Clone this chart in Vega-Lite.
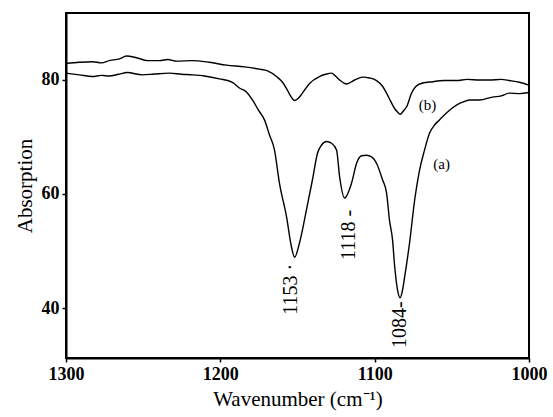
{
  "$schema": "https://vega.github.io/schema/vega-lite/v6.json",
  "width": 463,
  "height": 345,
  "autosize": {"type": "none"},
  "padding": {"left": 66, "top": 13, "right": 24, "bottom": 59},
  "background": "white",
  "config": {
    "view": {"stroke": "black", "strokeWidth": 2},
    "font": "Liberation Serif, Times New Roman, serif"
  },
  "datasets": {
    "spectra": [
      {"wn": 1300, "v": 82.9, "s": "b"}, {"wn": 1291.3, "v": 83.1, "s": "b"}, {"wn": 1282.9, "v": 83.2, "s": "b"},
      {"wn": 1277, "v": 83.0, "s": "b"}, {"wn": 1271.9, "v": 83.4, "s": "b"}, {"wn": 1265.3, "v": 83.7, "s": "b"},
      {"wn": 1260.8, "v": 84.2, "s": "b"}, {"wn": 1254.3, "v": 83.9, "s": "b"}, {"wn": 1247.2, "v": 83.4, "s": "b"},
      {"wn": 1239.4, "v": 83.4, "s": "b"}, {"wn": 1234, "v": 83.6, "s": "b"}, {"wn": 1228.4, "v": 83.3, "s": "b"},
      {"wn": 1218.1, "v": 83.4, "s": "b"}, {"wn": 1207.1, "v": 83.1, "s": "b"}, {"wn": 1196.0, "v": 82.6, "s": "b"},
      {"wn": 1184.4, "v": 82.3, "s": "b"}, {"wn": 1174.6, "v": 81.9, "s": "b"}, {"wn": 1169.4, "v": 81.6, "s": "b"},
      {"wn": 1163.6, "v": 80.6, "s": "b"}, {"wn": 1159.7, "v": 79.6, "s": "b"}, {"wn": 1157.1, "v": 78.5, "s": "b"},
      {"wn": 1154.5, "v": 77.2, "s": "b"}, {"wn": 1151.9, "v": 76.4, "s": "b"}, {"wn": 1149.4, "v": 76.8, "s": "b"},
      {"wn": 1146.8, "v": 77.7, "s": "b"}, {"wn": 1142.2, "v": 79.4, "s": "b"}, {"wn": 1135.8, "v": 80.6, "s": "b"},
      {"wn": 1131.8, "v": 81.0, "s": "b"}, {"wn": 1127.9, "v": 81.2, "s": "b"}, {"wn": 1125.4, "v": 80.7, "s": "b"},
      {"wn": 1122.7, "v": 80.0, "s": "b"}, {"wn": 1118.2, "v": 79.3, "s": "b"}, {"wn": 1113.0, "v": 80.0, "s": "b"},
      {"wn": 1107.8, "v": 80.5, "s": "b"}, {"wn": 1103.3, "v": 80.35, "s": "b"}, {"wn": 1098.8, "v": 79.9, "s": "b"},
      {"wn": 1094.9, "v": 78.9, "s": "b"}, {"wn": 1092.3, "v": 77.7, "s": "b"}, {"wn": 1089.7, "v": 76.3, "s": "b"},
      {"wn": 1087.1, "v": 75.0, "s": "b"}, {"wn": 1085.2, "v": 74.4, "s": "b"}, {"wn": 1083.5, "v": 74.0, "s": "b"},
      {"wn": 1081.3, "v": 74.6, "s": "b"}, {"wn": 1079.3, "v": 75.3, "s": "b"}, {"wn": 1076.1, "v": 77.7, "s": "b"},
      {"wn": 1073.5, "v": 78.8, "s": "b"}, {"wn": 1070.9, "v": 79.3, "s": "b"}, {"wn": 1062.5, "v": 79.7, "s": "b"},
      {"wn": 1055, "v": 79.9, "s": "b"}, {"wn": 1047.0, "v": 79.9, "s": "b"}, {"wn": 1040, "v": 80.1, "s": "b"},
      {"wn": 1032.1, "v": 80.0, "s": "b"}, {"wn": 1025.6, "v": 80.0, "s": "b"}, {"wn": 1018, "v": 80.1, "s": "b"},
      {"wn": 1012.7, "v": 79.9, "s": "b"}, {"wn": 1006.2, "v": 79.6, "s": "b"}, {"wn": 1000, "v": 79.1, "s": "b"},

      {"wn": 1300, "v": 81.2, "s": "a"}, {"wn": 1291.3, "v": 80.9, "s": "a"}, {"wn": 1282.9, "v": 80.6, "s": "a"},
      {"wn": 1277, "v": 80.8, "s": "a"}, {"wn": 1271.9, "v": 80.7, "s": "a"}, {"wn": 1266, "v": 81.0, "s": "a"},
      {"wn": 1260.2, "v": 81.3, "s": "a"}, {"wn": 1250.5, "v": 80.9, "s": "a"}, {"wn": 1242.7, "v": 81.05, "s": "a"},
      {"wn": 1233.0, "v": 81.2, "s": "a"}, {"wn": 1225, "v": 81.0, "s": "a"}, {"wn": 1218.1, "v": 80.9, "s": "a"},
      {"wn": 1210.3, "v": 80.7, "s": "a"}, {"wn": 1200.6, "v": 80.2, "s": "a"}, {"wn": 1192.2, "v": 79.6, "s": "a"},
      {"wn": 1187.6, "v": 78.6, "s": "a"}, {"wn": 1183.1, "v": 77.9, "s": "a"}, {"wn": 1179.2, "v": 76.5, "s": "a"},
      {"wn": 1175.3, "v": 74.7, "s": "a"}, {"wn": 1171.4, "v": 73.0, "s": "a"}, {"wn": 1168.2, "v": 70.4, "s": "a"},
      {"wn": 1164.9, "v": 67.7, "s": "a"}, {"wn": 1161.7, "v": 61.9, "s": "a"}, {"wn": 1157.1, "v": 56.0, "s": "a"},
      {"wn": 1153.9, "v": 50.7, "s": "a"}, {"wn": 1151.9, "v": 48.9, "s": "a"}, {"wn": 1148.7, "v": 51.4, "s": "a"},
      {"wn": 1144.2, "v": 57.2, "s": "a"}, {"wn": 1140.3, "v": 62.5, "s": "a"}, {"wn": 1137.0, "v": 67.2, "s": "a"},
      {"wn": 1134.4, "v": 68.6, "s": "a"}, {"wn": 1131.2, "v": 69.2, "s": "a"}, {"wn": 1127.9, "v": 68.9, "s": "a"},
      {"wn": 1124.7, "v": 67.7, "s": "a"}, {"wn": 1122.7, "v": 63.0, "s": "a"}, {"wn": 1119.5, "v": 59.3, "s": "a"},
      {"wn": 1115.0, "v": 61.9, "s": "a"}, {"wn": 1111.7, "v": 65.4, "s": "a"}, {"wn": 1108.5, "v": 66.7, "s": "a"},
      {"wn": 1105.3, "v": 66.8, "s": "a"}, {"wn": 1102.0, "v": 66.5, "s": "a"}, {"wn": 1098.8, "v": 65.4, "s": "a"},
      {"wn": 1094.9, "v": 62.5, "s": "a"}, {"wn": 1092.3, "v": 60.2, "s": "a"}, {"wn": 1090.4, "v": 55.4, "s": "a"},
      {"wn": 1088.4, "v": 51.9, "s": "a"}, {"wn": 1087.1, "v": 47.5, "s": "a"}, {"wn": 1085.2, "v": 43.2, "s": "a"},
      {"wn": 1083.5, "v": 41.8, "s": "a"}, {"wn": 1081.9, "v": 43.2, "s": "a"}, {"wn": 1080.6, "v": 45.4, "s": "a"},
      {"wn": 1077.4, "v": 51.4, "s": "a"}, {"wn": 1074.1, "v": 58.9, "s": "a"}, {"wn": 1070.9, "v": 64.2, "s": "a"},
      {"wn": 1067.7, "v": 67.7, "s": "a"}, {"wn": 1064.4, "v": 70.7, "s": "a"}, {"wn": 1061.2, "v": 72.1, "s": "a"},
      {"wn": 1058.0, "v": 73.0, "s": "a"}, {"wn": 1052.8, "v": 74.4, "s": "a"}, {"wn": 1047.0, "v": 75.6, "s": "a"},
      {"wn": 1043.1, "v": 76.1, "s": "a"}, {"wn": 1038.6, "v": 76.5, "s": "a"}, {"wn": 1032.1, "v": 76.5, "s": "a"},
      {"wn": 1023.7, "v": 77.0, "s": "a"}, {"wn": 1018, "v": 77.2, "s": "a"}, {"wn": 1012.7, "v": 77.7, "s": "a"},
      {"wn": 1006, "v": 77.6, "s": "a"}, {"wn": 1000, "v": 77.8, "s": "a"}
    ],
    "peaks": [
      {"wn": 1153.9, "v": 38.8, "label": "1153 ·"},
      {"wn": 1116.6, "v": 48.4, "label": "1118 -"},
      {"wn": 1083.9, "v": 33.0, "label": "1084-"}
    ],
    "curveLabels": [
      {"wn": 1065.7, "v": 75.6, "label": "(b)"},
      {"wn": 1056.6, "v": 65.2, "label": "(a)"}
    ]
  },
  "layer": [
    {
      "data": {"name": "spectra"},
      "mark": {"type": "line", "color": "black", "strokeWidth": 1.4, "interpolate": "monotone"},
      "encoding": {
        "x": {
          "field": "wn", "type": "quantitative",
          "scale": {"domain": [1000, 1300], "reverse": true, "nice": false, "zero": false},
          "axis": {
            "values": [1300, 1200, 1100, 1000], "format": "d",
            "title": "Wavenumber (cm⁻¹)", "grid": false,
            "domainColor": "black", "domainWidth": 2, "tickColor": "black", "tickSize": 4, "tickWidth": 1.5,
            "labelFont": "Liberation Serif, Times New Roman, serif", "labelFontWeight": "bold", "labelFontSize": 18, "labelColor": "black",
            "labelPadding": 3, "labelFlush": false,
            "titleFont": "Liberation Serif, Times New Roman, serif", "titleFontWeight": "normal", "titleFontSize": 21, "titleColor": "black",
            "titlePadding": 5
          }
        },
        "y": {
          "field": "v", "type": "quantitative",
          "scale": {"domain": [31.23, 91.75], "nice": false, "zero": false},
          "axis": {
            "values": [40, 60, 80], "title": "Absorption", "grid": false,
            "domainColor": "black", "domainWidth": 2, "tickColor": "black", "tickSize": 4, "tickWidth": 1.5,
            "labelFont": "Liberation Serif, Times New Roman, serif", "labelFontWeight": "bold", "labelFontSize": 18, "labelColor": "black",
            "labelPadding": 3,
            "titleFont": "Liberation Serif, Times New Roman, serif", "titleFontWeight": "normal", "titleFontSize": 21, "titleColor": "black",
            "titlePadding": 6
          }
        },
        "detail": {"field": "s", "type": "nominal"}
      }
    },
    {
      "data": {"name": "peaks"},
      "mark": {"type": "text", "angle": 270, "align": "left", "baseline": "middle", "font": "Liberation Serif, Times New Roman, serif", "fontSize": 20, "color": "black"},
      "encoding": {
        "x": {"field": "wn", "type": "quantitative"},
        "y": {"field": "v", "type": "quantitative"},
        "text": {"field": "label"}
      }
    },
    {
      "data": {"name": "curveLabels"},
      "mark": {"type": "text", "align": "center", "baseline": "middle", "font": "Liberation Serif, Times New Roman, serif", "fontSize": 15, "color": "black"},
      "encoding": {
        "x": {"field": "wn", "type": "quantitative"},
        "y": {"field": "v", "type": "quantitative"},
        "text": {"field": "label"}
      }
    }
  ]
}
